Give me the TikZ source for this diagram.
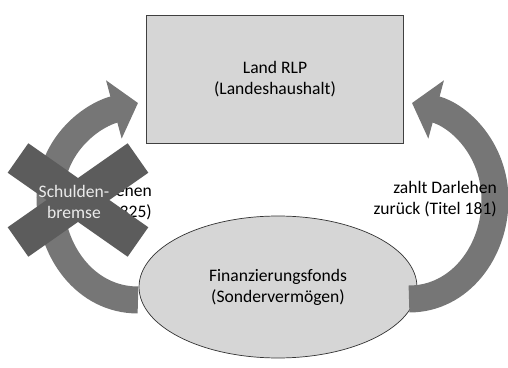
\documentclass[tikz,border=0pt]{standalone}
\usepackage{fontspec}
\setmainfont{Carlito}
\definecolor{grauHell}{RGB}{214,214,214}
\definecolor{grauPfeil}{RGB}{118,118,118}
\definecolor{grauKreuz}{RGB}{92,92,92}
\usetikzlibrary{shapes.geometric,arrows.meta,positioning}
\tikzset{
  kasten/.style={rectangle, draw=black!75, fill=grauHell, minimum width=5.14cm,
                 minimum height=2.56cm, align=center, font=\normalsize},
  fonds/.style={ellipse, draw=black!80, fill=grauHell, minimum width=5.56cm,
                minimum height=2.84cm, align=center, font=\normalsize},
  pfeil/.style={-{Triangle[length=0.5cm, width=1.18cm]}, line width=0.54cm, grauPfeil},
  kreuz/.style={line width=0.72cm, grauKreuz},
  beschriftung/.style={align=right, font=\normalsize},
}

\begin{document}
\begin{tikzpicture}[x=0.02cm, y=0.02cm]
  \useasboundingbox (0,0) rectangle (508,-368);
  \node[kasten] (land) at (275,-79) {Land RLP\\(Landeshaushalt)};
  \node[fonds] (fonds) at (278,-287) {Finanzierungsfonds\\(Sondervermögen)};
  % Pfeile zwischen Fonds und Land
  \coordinate (links) at (138,-300);
  \coordinate (linksziel) at (138,-103);
  \coordinate (rechts) at (409,-299);
  \coordinate (rechtsziel) at (412,-103);
  \draw[pfeil] (links) to[out=180,in=-90] (50,-198) to[out=90,in=195] (linksziel);
  \draw[pfeil] (rechts) to[out=0,in=-90] (495,-200) to[out=90,in=-15] (rechtsziel);
  \node[beschriftung, anchor=east] (gibt) at (158,-202) {gibt Darlehen\\(Titel 325)};
  \node[beschriftung, anchor=east] (zahlt) at (503,-199) {zahlt Darlehen\\zurück (Titel 181)};
  % durchgestrichen
  \draw[kreuz] (18,-158) -- (138,-242);
  \draw[kreuz] (18,-242) -- (138,-158);
  \node[align=center, text=white!92!black] (bremse) at (74,-202) {Schulden-\\bremse};
\end{tikzpicture}
\end{document}
